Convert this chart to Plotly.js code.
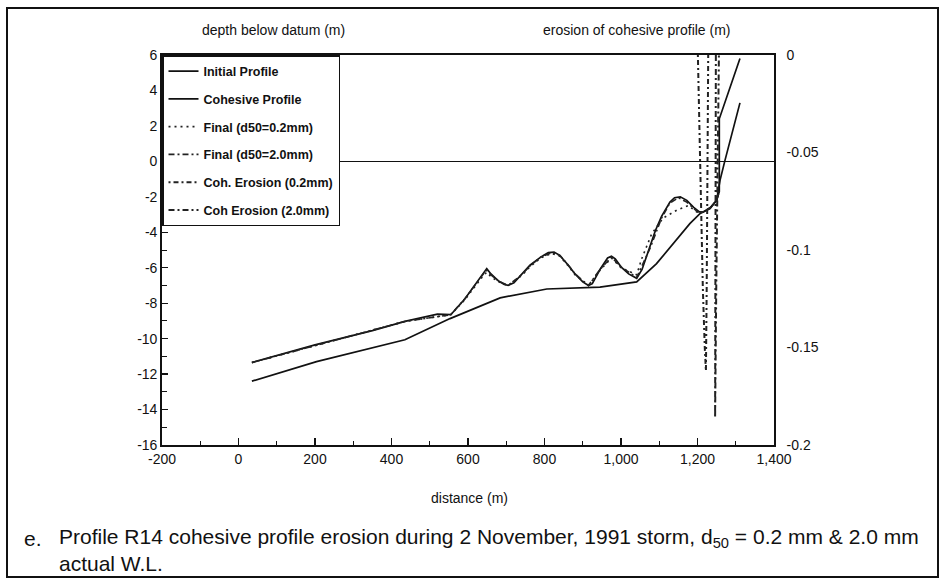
<!DOCTYPE html>
<html>
<head>
<meta charset="utf-8">
<script src="https://cdn.plot.ly/plotly-3.0.1.min.js"></script>
<style>
  html, body { margin: 0; padding: 0; background: #fff; }
  #chart { width: 945px; height: 579px; }
</style>
</head>
<body>
<div id="chart"></div>
<script>
// ---- data ----
const initialX = [35, 200, 350, 435, 520, 555, 592, 640, 649, 660, 680, 695, 705, 720, 740, 762, 790, 810, 825, 840, 860, 880, 900, 915, 925, 945, 965, 975, 985, 1000, 1020, 1041, 1055, 1076, 1090, 1106, 1128, 1140, 1155, 1172, 1190, 1205, 1215, 1233, 1250, 1257, 1257, 1311];
const initialY = [-11.35, -10.35, -9.55, -9.03, -8.62, -8.65, -7.75, -6.3, -6.05, -6.35, -6.75, -6.95, -7.0, -6.85, -6.4, -5.86, -5.4, -5.15, -5.12, -5.3, -5.8, -6.35, -6.8, -7.0, -6.9, -6.1, -5.45, -5.35, -5.5, -5.95, -6.35, -6.6, -6.1, -4.85, -3.9, -3.1, -2.3, -2.05, -2.0, -2.2, -2.6, -2.85, -2.85, -2.62, -2.2, -1.7, 2.4, 5.8];

const cohesiveX = [35, 204, 435, 553, 684, 806, 945, 1041, 1093, 1146, 1180, 1207, 1233, 1250, 1259, 1272, 1311];
const cohesiveY = [-12.4, -11.3, -10.06, -8.87, -7.7, -7.2, -7.09, -6.8, -5.77, -4.36, -3.51, -2.94, -2.66, -2.19, -1.06, 0.07, 3.3];

const final02X = [35, 435, 555, 592, 640, 649, 660, 680, 705, 740, 762, 790, 819, 840, 860, 880, 915, 945, 975, 1000, 1041, 1054, 1080, 1110, 1146, 1176, 1198, 1215, 1233, 1250, 1257];
const final02Y = [-11.35, -9.03, -8.65, -7.8, -6.45, -6.25, -6.5, -6.8, -7.0, -6.45, -5.95, -5.45, -5.2, -5.35, -5.85, -6.4, -7.0, -6.15, -5.45, -6.0, -6.4, -5.5, -4.1, -3.2, -2.75, -2.5, -2.85, -2.85, -2.62, -2.2, -1.7];

const final20X = [35, 435, 555, 592, 640, 649, 660, 680, 705, 740, 762, 790, 819, 840, 860, 880, 915, 945, 975, 1000, 1041, 1076, 1106, 1128, 1150, 1172, 1200, 1215, 1233, 1250, 1257];
const final20Y = [-11.35, -9.03, -8.65, -7.75, -6.35, -6.15, -6.4, -6.75, -7.0, -6.4, -5.9, -5.4, -5.15, -5.3, -5.8, -6.35, -7.0, -6.1, -5.4, -5.95, -6.55, -4.9, -3.2, -2.35, -2.05, -2.3, -2.85, -2.85, -2.62, -2.2, -1.7];

const eros02X = [1201, 1205, 1210, 1214, 1219, 1222, 1224, 1226, 1228];
const eros02Y = [0, -0.04, -0.09, -0.12, -0.15, -0.162, -0.12, -0.06, 0];

const eros20X = [1248, 1247, 1246, 1246, 1249, 1252, 1256];
const eros20Y = [0, -0.08, -0.15, -0.186, -0.12, -0.06, 0];

const xTickVals = [-200, 0, 200, 400, 600, 800, 1000, 1200, 1400];
const xTickText = ['-200', '0', '200', '400', '600', '800', '1,000', '1,200', '1,400'];
const yTickVals = [6, 4, 2, 0, -2, -4, -6, -8, -10, -12, -14, -16];
const yTickText = ['6', '4', '2', '0', '-2', '-4', '-6', '-8', '-10', '-12', '-14', '-16'];
const y2TickVals = [0, -0.05, -0.1, -0.15, -0.2];
const y2TickText = ['0', '-0.05', '-0.1', '-0.15', '-0.2'];

const seriesNames = ['Initial Profile', 'Cohesive Profile', 'Final (d50=0.2mm)', 'Final (d50=2.0mm)', 'Coh. Erosion (0.2mm)', 'Coh Erosion (2.0mm)'];

// ---- traces ----
const LW = 1.7;
const traces = [
  {x: initialX, y: initialY, name: seriesNames[0], legendgroup: 'g1', mode: 'lines', line: {color: '#111', width: LW}},
  {x: cohesiveX, y: cohesiveY, name: seriesNames[1], legendgroup: 'g2', mode: 'lines', line: {color: '#111', width: LW}},
  {x: final02X, y: final02Y, name: seriesNames[2], legendgroup: 'g3', mode: 'lines', line: {color: '#222', width: 1.6, dash: '2px,4px'}},
  {x: final20X, y: final20Y, name: seriesNames[3], legendgroup: 'g4', mode: 'lines', line: {color: '#222', width: 1.6, dash: '6px,3px,2px,3px'}},
  {x: eros02X, y: eros02Y, name: seriesNames[4], legendgroup: 'g5', yaxis: 'y2', mode: 'lines', line: {color: '#222', width: 2, dash: '2px,3px,5px,3px'}},
  {x: eros20X, y: eros20Y, name: seriesNames[5], legendgroup: 'g6', yaxis: 'y2', mode: 'lines', line: {color: '#222', width: 2, dash: '6px,3px,2px,3px'}}
];

const FONT = 'Arial, "Liberation Sans", Helvetica, sans-serif';

const layout = {
  width: 945, height: 579,
  margin: {l: 162, r: 171, t: 55, b: 134, pad: 0},
  paper_bgcolor: '#fff', plot_bgcolor: '#fff',
  font: {family: FONT, size: 14, color: '#111'},
  showlegend: true,
  legend: {
    x: 0, y: 1, xanchor: 'left', yanchor: 'top',
    bgcolor: '#fff', bordercolor: '#111', borderwidth: 1.5,
    font: {family: FONT, size: 12.5, color: '#111', weight: 'bold'},
    traceorder: 'grouped', tracegroupgap: 8.5, itemwidth: 30
  },
  xaxis: {
    range: [-200, 1400], showgrid: false, zeroline: false,
    showline: true, linecolor: '#111', linewidth: 1.8, mirror: true,
    ticks: 'inside', ticklen: 7, tickwidth: 1.2, tickcolor: '#111',
    tickvals: xTickVals, ticktext: xTickText,
    minor: {dtick: 100, ticks: 'inside', ticklen: 4, tickwidth: 1, tickcolor: '#111', showgrid: false},
    tickfont: {family: FONT, size: 14, color: '#111'}
  },
  yaxis: {
    range: [-16, 6], showgrid: false,
    zeroline: true, zerolinecolor: '#111', zerolinewidth: 1.5,
    showline: true, linecolor: '#111', linewidth: 1.8,
    ticks: 'inside', ticklen: 6, tickwidth: 1.2, tickcolor: '#111',
    tickvals: yTickVals, ticktext: yTickText,
    minor: {dtick: 1, ticks: 'inside', ticklen: 5, tickwidth: 1, tickcolor: '#111', showgrid: false},
    tickfont: {family: FONT, size: 14, color: '#111'}
  },
  yaxis2: {
    range: [-0.2, 0], overlaying: 'y', side: 'right', showgrid: false, zeroline: false,
    showline: true, linecolor: '#111', linewidth: 1.8,
    ticks: '', tickvals: y2TickVals, ticktext: y2TickText, ticklabelstandoff: 8,
    tickfont: {family: FONT, size: 14, color: '#111'}
  },
  annotations: [
    {xref: 'paper', yref: 'paper', x: 0.062, y: 1.064, xanchor: 'left', yanchor: 'middle', showarrow: false,
     text: 'depth below datum (m)', font: {family: FONT, size: 14, color: '#111'}},
    {xref: 'paper', yref: 'paper', x: 0.619, y: 1.064, xanchor: 'left', yanchor: 'middle', showarrow: false,
     text: 'erosion of cohesive profile (m)', font: {family: FONT, size: 14, color: '#111'}},
    {xref: 'paper', yref: 'paper', x: 0.503, y: -0.136, xanchor: 'center', yanchor: 'middle', showarrow: false,
     text: 'distance (m)', font: {family: FONT, size: 14, color: '#111'}},
    {xref: 'paper', yref: 'paper', x: (22 - 162) / 612, y: (445 - 538) / 390, xanchor: 'left', yanchor: 'middle', showarrow: false,
     text: 'e.', font: {family: FONT, size: 21, color: '#111'}},
    {xref: 'paper', yref: 'paper', x: (57 - 162) / 612, y: (445 - 538) / 390, xanchor: 'left', yanchor: 'middle', showarrow: false,
     text: 'Profile R14 cohesive profile erosion during 2 November, 1991 storm, d<sub>50</sub> = 0.2 mm &amp; 2.0 mm', font: {family: FONT, size: 21, color: '#111'}},
    {xref: 'paper', yref: 'paper', x: (57 - 162) / 612, y: (445 - 563) / 390, xanchor: 'left', yanchor: 'middle', showarrow: false,
     text: 'actual W.L.', font: {family: FONT, size: 21, color: '#111'}}
  ],
  shapes: [
    {type: 'rect', xref: 'paper', yref: 'paper', layer: 'below',
     x0: (7 - 162) / 612, x1: (938 - 162) / 612, y0: (445 - 577) / 390, y1: (445 - 8) / 390,
     line: {color: '#111', width: 2}}
  ]
};

Plotly.newPlot('chart', traces, layout, {staticPlot: true, displayModeBar: false});
</script>
</body>
</html>
